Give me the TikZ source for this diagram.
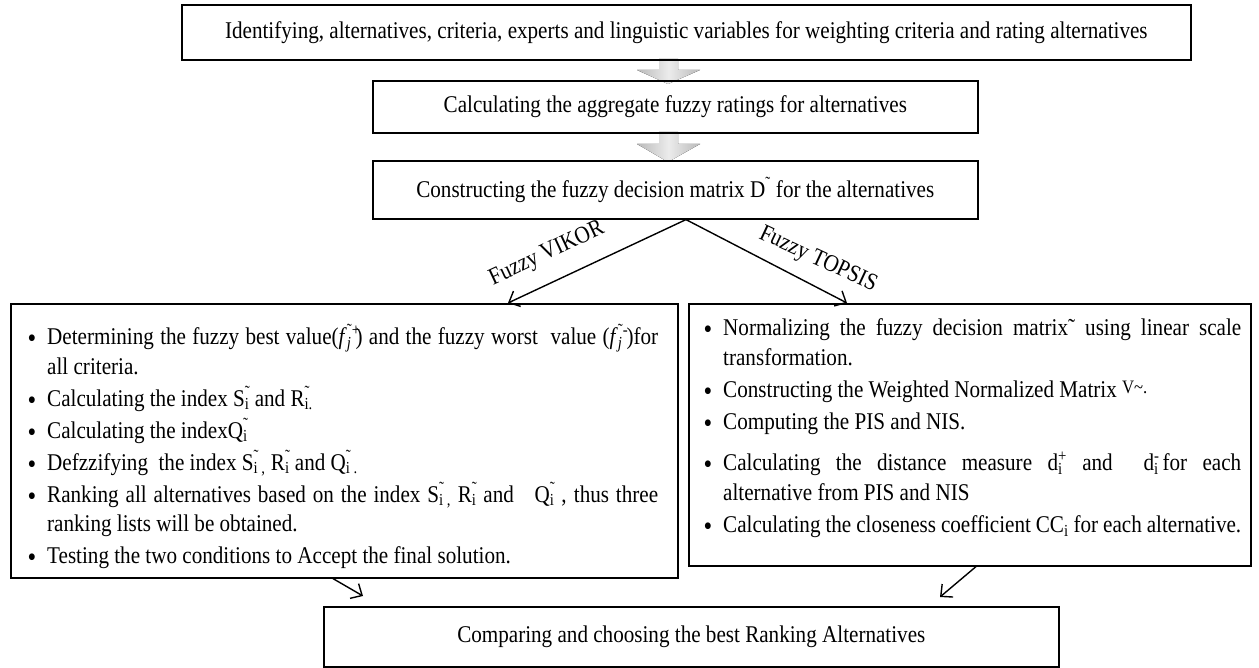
\documentclass[tikz,border=0pt]{standalone}
\usepackage{fontspec}
\setmainfont{Liberation Serif}[FakeStretch=0.88]
\usetikzlibrary{arrows.meta,calc}
\newcommand\tildx{\char"02DC}
\newcommand\SubTil[1]{\rlap{\textsuperscript{\tildx}}\textsubscript{#1}}
\newcommand\bigbul{\raisebox{-3pt}{\fontsize{28}{28}\selectfont\textbullet}}
\newenvironment{blist}{\begin{list}{\bigbul}{\setlength\leftmargin{20pt}\setlength\labelwidth{9pt}\setlength\labelsep{11pt}\setlength\itemsep{2.5pt}\setlength\parsep{0pt}\setlength\topsep{0pt}\setlength\partopsep{0pt}}}{\end{list}}
\begin{document}
\begin{tikzpicture}[x=1pt,y=-1pt,
  box/.style={draw=black,line width=1.6pt,rectangle,inner sep=0pt,anchor=north west},
  txt/.style={font=\fontsize{24}{29.5}\selectfont},
  lab/.style={font=\fontsize{24}{26}\selectfont},
  arr/.style={line width=1.4pt,-{Straight Barb[length=9pt,width=17pt,line width=1.4pt]}},
  garr/.style={left color=gray!55,right color=gray!55,middle color=gray!15,draw=none}]
\useasboundingbox (0,0) rectangle (1259,668);
\fill[white] (0,0) rectangle (1259,668);
% gray block arrows
\fill[garr] (659,59) -- (678,59) -- (678,70) -- (700,70) -- (668,84) -- (637,70) -- (659,70) -- cycle;
\fill[garr] (659,132) -- (678,132) -- (678,144) -- (700,144) -- (668,162) -- (637,144) -- (659,144) -- cycle;
% boxes
\node[box,minimum width=1009pt,minimum height=55pt] (b1) at (181,4) {};
\node[txt] (t1) at (b1.center) {Identifying, alternatives, criteria, experts and linguistic variables for weighting criteria and rating alternatives};
\node[box,minimum width=605pt,minimum height=52pt] (b2) at (372,80) {};
\node[txt] (t2) at (b2.center) {Calculating the aggregate fuzzy ratings for alternatives};
\node[box,minimum width=605pt,minimum height=58pt] (b3) at (372,160) {};
\node[txt] (t3) at (b3.center) {Constructing the fuzzy decision matrix D\textsuperscript{\tildx} for the alternatives};
\node[box,minimum width=667pt,minimum height=274pt] (vik) at (10,303) {};
\node[box,minimum width=562pt,minimum height=262pt] (top) at (688,303) {};
\node[box,minimum width=735pt,minimum height=60pt] (fin) at (323,606) {};
\node[txt] (t4) at (fin.center) {Comparing and choosing the best Ranking Alternatives};
% left list
\node[txt,anchor=north west,inner sep=0pt,text width=631pt,align=justify] (vt) at (27,315) {%
\begin{blist}
\item Determining the fuzzy best value(\textit{f}\rlap{\textsuperscript{\tildx+}}\textsubscript{\textit{j}}\kern4pt) and the fuzzy worst\ \ value (\textit{f}\rlap{\textsuperscript{\tildx-}}\textsubscript{\textit{j}}\kern4pt)for\linebreak all criteria.
\item Calculating the index S\SubTil{i} and R\SubTil{i.}
\item Calculating the indexQ\SubTil{i}
\item Defzzifying\ \ the index S\SubTil{i ,} R\SubTil{i} and Q\SubTil{i .}
\item Ranking all alternatives based on the index S\SubTil{i ,} R\SubTil{i} and\ \ \ Q\SubTil{i} , thus three\linebreak ranking lists will be obtained.
\item Testing the two conditions to Accept the final solution.
\end{blist}};
% right list
\node[txt,anchor=north west,inner sep=0pt,text width=538pt,align=justify] (tt) at (703,306) {%
\begin{blist}
\item Normalizing the fuzzy decision matrix\tildx\ using linear scale\linebreak transformation.
\item Constructing the Weighted Normalized Matrix \raisebox{4pt}{\fontsize{19}{20}\selectfont V\textasciitilde.}
\item Computing the PIS and NIS.
\item[\rule{0pt}{33pt}\bigbul] Calculating the distance measure d\rlap{\textsubscript{i}}\textsuperscript{+} and\ \ d\rlap{\textsubscript{i}}\textsuperscript{-}\kern3pt for each\linebreak alternative from PIS and NIS
\item Calculating the closeness coefficient CC\textsubscript{i} for each alternative.
\end{blist}};
% split arrows
\coordinate (split) at ($(b3.south west)+(314,0)$);
\draw[arr] (split) -- ($(vik.north west)+(498,0)$);
\draw[arr] (split) -- ($(top.north west)+(159,0)$);
\node[lab,rotate=25] (lv) at (547,254) {Fuzzy VIKOR};
\node[lab,rotate=-25] (lt) at (818,260) {Fuzzy TOPSIS};
% bottom arrows
\draw[arr] ($(vik.south west)+(323,0)$) -- ($(fin.north west)+(40,-10)$);
\draw[arr] ($(top.south west)+(288,0)$) -- ($(fin.north west)+(617,-9)$);
\end{tikzpicture}
\end{document}
